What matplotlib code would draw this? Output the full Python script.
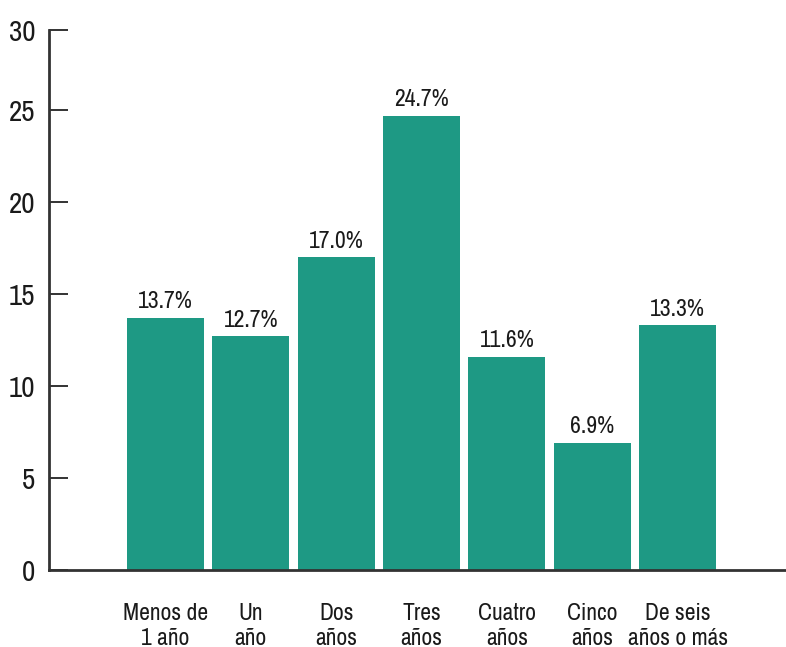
import matplotlib
matplotlib.use("Agg")
import matplotlib.pyplot as plt
from matplotlib import font_manager
import numpy as np

categories = ["Menos de\n1 año", "Un\naño", "Dos\naños", "Tres\naños",
              "Cuatro\naños", "Cinco\naños", "De seis\naños o más"]
values = [13.7, 12.7, 17.0, 24.7, 11.6, 6.9, 13.3]
tick_labels = ["0", "5", "10", "15", "20", "25", "30"]

# the original uses a condensed face; take the narrowest one we can find
narrow = [f for f in font_manager.fontManager.ttflist
          if ("Narrow" in f.name or "Condensed" in f.name
              or "condensed" in str(f.stretch)) and f.weight in (400, "normal")
          and f.style == "normal"]
if narrow:
    pick = sorted(narrow, key=lambda f: ("Liberation" not in f.name, f.name))[0]
    plt.rcParams["font.family"] = [pick.name, "DejaVu Sans"]
    plt.rcParams["font.stretch"] = pick.stretch
else:
    plt.rcParams["font.family"] = ["Roboto", "DejaVu Sans"]

bar_color = "#1e9984"
ink = "#1a1a1a"
axis_color = "#333333"

fig = plt.figure(figsize=(7.86, 6.47), dpi=100)
ax = fig.add_axes([49 / 786, 77 / 647, 737 / 786, 540 / 647])

x = np.arange(len(categories))
bars = ax.bar(x, values, width=0.9, color=bar_color)
ax.bar_label(bars, labels=[f"{v:.1f}%" for v in values], padding=4,
             fontsize=17, color=ink)

# the original axis stops a little short of 30 but still labels it 30
ytop = 29.35
ax.set_ylim(0, ytop)
ax.set_yticks([0, 5, 10, 15, 20, 25, ytop])
ax.set_yticklabels(tick_labels)
ax.set_xlim(-1.365, 7.27)
ax.set_xticks(x)
ax.set_xticklabels(categories, fontsize=17, color=ink, linespacing=1.22)

ax.tick_params(axis="y", direction="in", length=14, width=1.4,
               color=axis_color, labelsize=21, labelcolor=ink, pad=10)
ax.tick_params(axis="x", length=0, pad=24)

for side in ["top", "right"]:
    ax.spines[side].set_visible(False)
for side in ["left", "bottom"]:
    ax.spines[side].set_color(axis_color)
    ax.spines[side].set_linewidth(2)

fig.savefig("out.png", dpi=100)
